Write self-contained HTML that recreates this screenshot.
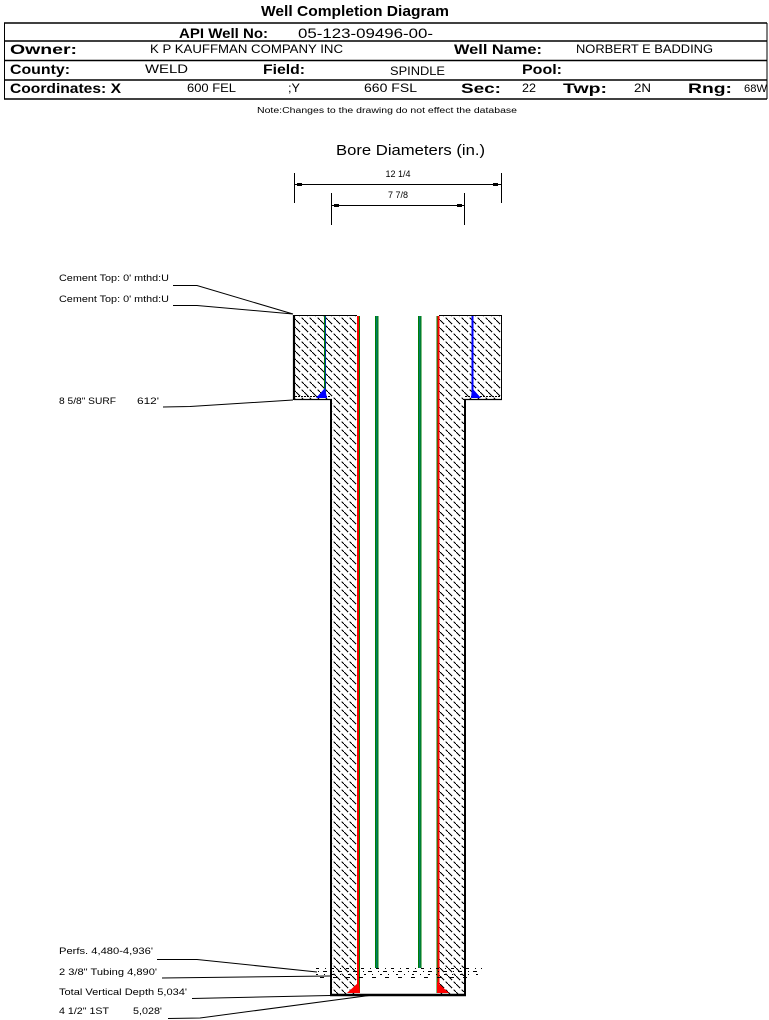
<!DOCTYPE html>
<html>
<head>
<meta charset="utf-8">
<style>
html,body{margin:0;padding:0;background:#fff;}
svg{display:block;}
text{font-family:"Liberation Sans",Arial,sans-serif;fill:#000;}
.b{font-weight:bold;}
</style>
</head>
<body>
<svg width="769" height="1020" viewBox="0 0 769 1020" xmlns="http://www.w3.org/2000/svg">
<defs>
<pattern id="h" patternUnits="userSpaceOnUse" width="8" height="8">
<path d="M0,0 L8,8" stroke="#000" stroke-width="1" shape-rendering="crispEdges" stroke-dasharray="6,2"/>
</pattern>
</defs>
<rect width="769" height="1020" fill="#fff"/>

<!-- Title -->
<text x="261" y="16" class="b" font-size="15" textLength="188" lengthAdjust="spacingAndGlyphs">Well Completion Diagram</text>

<!-- Header box -->
<g stroke="#000" fill="none">
<line x1="4" y1="23" x2="767" y2="23" stroke-width="1.5"/>
<line x1="4" y1="41" x2="767" y2="41" stroke-width="1.5"/>
<line x1="4" y1="60.5" x2="767" y2="60.5" stroke-width="1.5"/>
<line x1="4" y1="80" x2="767" y2="80" stroke-width="1.5"/>
<line x1="4" y1="99" x2="767" y2="99" stroke-width="1.5"/>
<line x1="4.5" y1="23" x2="4.5" y2="99" stroke-width="1"/>
<line x1="767" y1="23" x2="767" y2="99" stroke-width="1"/>
</g>

<text x="179" y="38" class="b" font-size="14" textLength="89" lengthAdjust="spacingAndGlyphs">API Well No:</text>
<text x="298" y="38" font-size="14" textLength="135" lengthAdjust="spacingAndGlyphs">05-123-09496-00-</text>

<text x="10" y="54" class="b" font-size="14" textLength="67" lengthAdjust="spacingAndGlyphs">Owner:</text>
<text x="150" y="53" font-size="12" textLength="193" lengthAdjust="spacingAndGlyphs">K P KAUFFMAN COMPANY INC</text>
<text x="454" y="54" class="b" font-size="14" textLength="88" lengthAdjust="spacingAndGlyphs">Well Name:</text>
<text x="576" y="53" font-size="12" textLength="137" lengthAdjust="spacingAndGlyphs">NORBERT E BADDING</text>

<text x="10" y="74" class="b" font-size="14" textLength="60" lengthAdjust="spacingAndGlyphs">County:</text>
<text x="145" y="73" font-size="12" textLength="43" lengthAdjust="spacingAndGlyphs">WELD</text>
<text x="263" y="74" class="b" font-size="14" textLength="42" lengthAdjust="spacingAndGlyphs">Field:</text>
<text x="390" y="75" font-size="12" textLength="55" lengthAdjust="spacingAndGlyphs">SPINDLE</text>
<text x="522" y="74" class="b" font-size="14" textLength="40" lengthAdjust="spacingAndGlyphs">Pool:</text>

<text x="10" y="93" class="b" font-size="14" textLength="111" lengthAdjust="spacingAndGlyphs">Coordinates: X</text>
<text x="187" y="92" font-size="12" textLength="49" lengthAdjust="spacingAndGlyphs">600 FEL</text>
<text x="288" y="92" font-size="12" textLength="12" lengthAdjust="spacingAndGlyphs">;Y</text>
<text x="364" y="92" font-size="12" textLength="53" lengthAdjust="spacingAndGlyphs">660 FSL</text>
<text x="461" y="93" class="b" font-size="14" textLength="40" lengthAdjust="spacingAndGlyphs">Sec:</text>
<text x="522" y="92" font-size="12" textLength="14" lengthAdjust="spacingAndGlyphs">22</text>
<text x="563" y="93" class="b" font-size="14" textLength="44" lengthAdjust="spacingAndGlyphs">Twp:</text>
<text x="634" y="92" font-size="12" textLength="17" lengthAdjust="spacingAndGlyphs">2N</text>
<text x="688" y="93" class="b" font-size="14" textLength="44" lengthAdjust="spacingAndGlyphs">Rng:</text>
<text x="744" y="92" font-size="11" textLength="23" lengthAdjust="spacingAndGlyphs">68W</text>

<text x="257" y="113" font-size="8" textLength="260" lengthAdjust="spacingAndGlyphs">Note:Changes to the drawing do not effect the database</text>

<!-- Bore diameters -->
<text x="336" y="155" font-size="15" textLength="149" lengthAdjust="spacingAndGlyphs">Bore Diameters (in.)</text>
<g stroke="#000" stroke-width="1">
<line x1="294.5" y1="173" x2="294.5" y2="203"/>
<line x1="501.5" y1="173" x2="501.5" y2="203"/>
<line x1="294" y1="184.5" x2="501" y2="184.5"/>
<line x1="331.5" y1="193" x2="331.5" y2="225"/>
<line x1="464.5" y1="193" x2="464.5" y2="225"/>
<line x1="331" y1="205.5" x2="464" y2="205.5"/>
</g>
<g fill="#000">
<rect x="297" y="183" width="5" height="3"/>
<rect x="493" y="183" width="5" height="3"/>
<rect x="334" y="204" width="5" height="3"/>
<rect x="457" y="204" width="5" height="3"/>
</g>
<text x="398" y="177" font-size="9" text-anchor="middle">12 1/4</text>
<text x="398" y="198" font-size="9" text-anchor="middle">7 7/8</text>

<!-- Hatched cement -->
<rect x="295" y="316" width="62" height="83" fill="url(#h)"/>
<rect x="332" y="399" width="25" height="595" fill="url(#h)"/>
<rect x="439.5" y="316" width="62" height="83" fill="url(#h)"/>
<rect x="439.5" y="399" width="25" height="595" fill="url(#h)"/>

<!-- Well outlines -->
<g stroke="#000" fill="none">
<line x1="294" y1="315.5" x2="357" y2="315.5" stroke-width="1"/>
<line x1="439" y1="315.5" x2="502" y2="315.5" stroke-width="1"/>
<line x1="294" y1="315" x2="294" y2="400" stroke-width="2.2"/>
<line x1="501.5" y1="315" x2="501.5" y2="399" stroke-width="1"/>
<line x1="294" y1="399.5" x2="332" y2="399.5" stroke-width="1.2"/>
<line x1="464" y1="399.5" x2="502" y2="399.5" stroke-width="1.2"/>
<line x1="295" y1="396.5" x2="331" y2="396.5" stroke-width="1" stroke-dasharray="2,1"/>
<line x1="465" y1="396.5" x2="501" y2="396.5" stroke-width="1" stroke-dasharray="2,1"/>
<line x1="331" y1="399" x2="331" y2="996" stroke-width="2"/>
<line x1="465" y1="399" x2="465" y2="996" stroke-width="2"/>
<line x1="330" y1="995" x2="466" y2="995" stroke-width="2.4"/>
</g>

<!-- Surface casing -->
<rect x="324" y="316" width="2" height="82" fill="#008000"/>
<rect x="325" y="316" width="0.6" height="82" fill="#0000ff"/>
<polygon points="325,388 316,398 327,398" fill="#0000ff"/>
<rect x="471.5" y="316" width="2" height="82" fill="#0000ff"/>
<polygon points="472,388 481,398 471,398" fill="#0000ff"/>

<!-- Production casing -->
<rect x="357" y="316" width="2" height="677" fill="#ff0000"/>
<rect x="359" y="316" width="1" height="677" fill="#008000"/>
<polygon points="359,982 347,993 360,993" fill="#ff0000"/>
<rect x="436.5" y="316" width="1" height="677" fill="#008000"/>
<rect x="437.5" y="316" width="2" height="677" fill="#ff0000"/>
<polygon points="437,982 449,993 437,993" fill="#ff0000"/>

<!-- Tubing -->
<rect x="375" y="316" width="3.5" height="652" fill="#008000"/>
<rect x="376" y="316" width="1.5" height="652" fill="#007a6a"/>
<rect x="418" y="316" width="3.5" height="652" fill="#008000"/>
<rect x="419" y="316" width="1.5" height="652" fill="#007a6a"/>

<!-- Perfs band -->
<g stroke="#000" stroke-width="1" fill="none" shape-rendering="crispEdges">
<line x1="316" y1="968.5" x2="482" y2="968.5" stroke-dasharray="3,6,1,5"/>
<line x1="318" y1="971.5" x2="480" y2="971.5" stroke-dasharray="1,4,4,6"/>
<line x1="316" y1="974.5" x2="483" y2="974.5" stroke-dasharray="2,6,1,7"/>
<line x1="320" y1="977.5" x2="470" y2="977.5" stroke-dasharray="4,9"/>
</g>

<!-- Labels -->
<g font-size="9">
<text x="59" y="281" textLength="110" lengthAdjust="spacingAndGlyphs">Cement Top: 0' mthd:U</text>
<text x="59" y="302" textLength="110" lengthAdjust="spacingAndGlyphs">Cement Top: 0' mthd:U</text>
<text x="59" y="404" textLength="57" lengthAdjust="spacingAndGlyphs">8 5/8" SURF</text>
<text x="137" y="404" textLength="22" lengthAdjust="spacingAndGlyphs">612'</text>
<text x="59" y="954" textLength="94" lengthAdjust="spacingAndGlyphs">Perfs. 4,480-4,936'</text>
<text x="59" y="975" textLength="98" lengthAdjust="spacingAndGlyphs">2 3/8" Tubing 4,890'</text>
<text x="59" y="995" textLength="128" lengthAdjust="spacingAndGlyphs">Total Vertical Depth 5,034'</text>
<text x="59" y="1014" textLength="50" lengthAdjust="spacingAndGlyphs">4 1/2" 1ST</text>
<text x="133" y="1014" textLength="29" lengthAdjust="spacingAndGlyphs">5,028'</text>
</g>
<g stroke="#000" stroke-width="1" fill="none">
<polyline points="173,285.5 197,285.5 293,314"/>
<polyline points="173,305.5 197,305.5 293,314"/>
<polyline points="163,407 190,406.5 293,400"/>
<polyline points="157,959.5 197,959.5 317,972"/>
<polyline points="162,978 330,976"/>
<polyline points="192,998.5 330,995.5"/>
<polyline points="168,1018.5 200,1018 369,995.5"/>
</g>
</svg>
</body>
</html>
